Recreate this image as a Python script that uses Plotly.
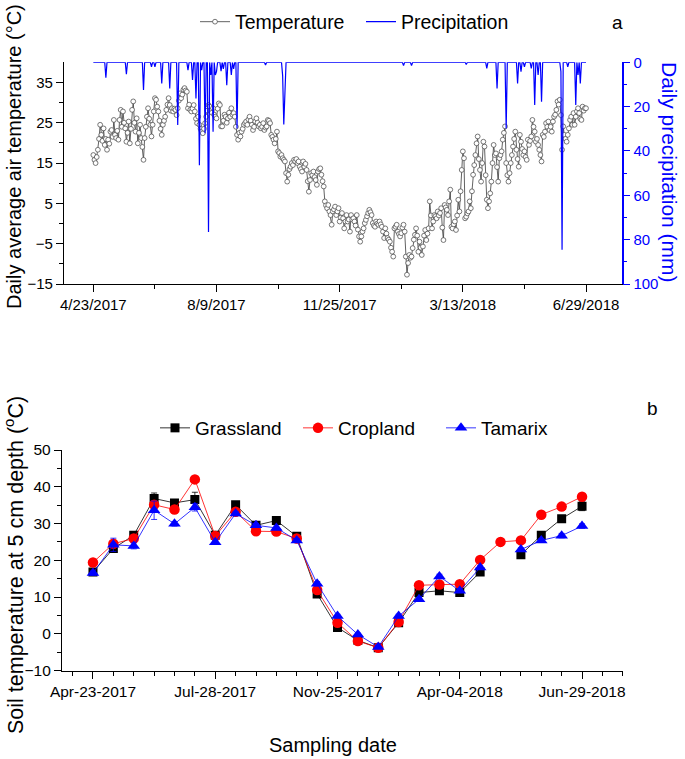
import datetime as dt
import plotly.graph_objects as go

# ---------------- Panel a data ----------------
temp_start = "2017-04-23"
temperature = [
    17.0, 15.8, 15.0, 16.5, 18.3, 21.0, 24.5, 22.0, 20.5, 23.6,
    19.5, 21.0, 18.3, 20.8, 19.8, 22.8, 23.2, 21.5, 25.7, 22.0,
    21.2, 23.0, 20.8, 25.7, 28.2, 24.0, 27.8, 25.0, 23.6, 20.3,
    22.5, 25.3, 19.9, 23.5, 28.2, 30.3, 25.0, 22.8, 26.1, 19.9,
    22.5, 24.5, 21.2, 19.0, 15.8, 21.2, 24.0, 26.5, 28.6, 26.0,
    24.5, 21.6, 24.5, 27.8, 31.1, 30.7, 29.0, 27.8, 25.5, 23.5,
    22.0, 24.5, 25.5, 26.5, 28.2, 29.5, 31.1, 29.4, 28.0, 28.6,
    27.8, 28.5, 28.2, 26.9, 28.6, 30.5, 32.3, 31.1, 32.0, 33.2,
    33.6, 33.0, 32.7, 28.6, 29.5, 28.2, 27.8, 28.5, 29.4, 27.8,
    26.0, 24.9, 26.5, 24.5, 23.5, 22.8, 22.4, 23.5, 24.9, 26.5,
    28.0, 29.4, 29.0, 28.0, 27.5, 28.6, 27.0, 26.5, 26.1, 28.5,
    29.8, 29.4, 24.1, 24.1, 25.5, 27.0, 26.5, 25.0, 26.1, 27.5,
    26.5, 28.6, 27.0, 27.4, 26.5, 24.0, 22.0, 20.8, 22.5, 21.6,
    22.8, 23.5, 24.5, 24.9, 25.3, 24.5, 25.8, 26.5, 25.5, 24.5,
    23.2, 24.0, 25.3, 26.1, 25.0, 24.1, 24.5, 23.6, 24.0, 24.9,
    23.2, 23.8, 24.1, 25.7, 25.5, 24.9, 22.0, 21.5, 20.8, 19.9,
    21.0, 22.8, 17.9, 17.5, 16.6, 17.0, 16.2, 15.8, 15.4, 12.5,
    10.4, 12.1, 13.5, 14.1, 15.0, 14.5, 15.8, 15.4, 16.0, 15.0,
    15.4, 14.1, 13.5, 12.9, 15.4, 14.1, 14.8, 13.3, 10.5, 7.9,
    10.8, 12.5, 12.0, 12.9, 11.5, 10.8, 9.6, 12.9, 13.5, 13.7,
    12.1, 10.5, 9.2, 5.5, 4.5, 3.8, 4.6, 3.0, 2.1, -0.3,
    3.0, 3.5, 4.2, 2.1, 3.0, 3.8, 0.5, 1.5, 2.6, 1.3,
    -1.2, 0.5, 2.1, 0.5, 1.0, -2.0, 2.1, 1.0, 1.3, 0.5,
    -0.5, 2.1, -1.5, -3.2, -4.5, -3.2, -2.0, -1.2, 0.1, 0.9,
    1.8, 2.6, 3.4, 2.8, 2.1, 0.1, -0.5, -0.8, 0.5, 0.0,
    -0.3, 0.5, -0.2, -0.8, -2.0, -3.6, -1.2, -2.5, -3.6, -4.0,
    -4.5, -6.0, -7.0, -8.2, -1.2, -0.8, -0.3, -2.0, -2.6, -3.2,
    -2.4, -1.0, -0.3, -2.0, -8.2, -12.7, -9.8, -7.8, -8.5, -8.2,
    -6.1, -4.0, -2.8, -1.2, -3.0, -7.0, -4.5, -6.0, -7.8, -5.7,
    -3.0, -1.6, -4.1, -2.5, -1.2, 5.5, 2.0, -1.2, 0.5, 2.1,
    1.8, 1.3, 3.0, 2.0, 2.6, 3.8, -1.0, -4.1, 4.6, 4.0,
    3.4, 2.1, 5.5, 8.4, -0.8, -1.2, -0.2, 0.5, -1.6, 2.0,
    5.9, 3.0, 8.0, 13.3, 17.9, 16.2, 1.3, 1.7, 2.5, 3.0,
    5.5, 3.8, 8.0, 12.1, 14.5, 17.0, 19.9, 21.6, 16.0, 13.3,
    10.4, 15.0, 20.3, 19.1, 12.0, 5.9, 3.8, 5.5, 7.5, 10.4,
    15.0, 19.5, 17.0, 17.4, 14.0, 10.4, 16.2, 17.0, 17.9, 20.8,
    22.5, 24.1, 15.0, 12.0, 10.4, 12.5, 15.0, 17.0, 19.1, 21.0,
    22.8, 18.3, 16.0, 14.1, 22.0, 20.3, 18.5, 17.0, 17.9, 16.5,
    15.8, 20.8, 19.5, 20.5, 21.6, 25.7, 24.0, 22.8, 20.3, 21.0,
    19.5, 18.3, 17.0, 15.4, 22.0, 21.5, 22.8, 24.9, 24.0, 25.3,
    23.2, 24.0, 22.8, 25.3, 26.5, 27.0, 28.2, 30.3, 29.5, 30.7,
    26.9, 18.3, 24.1, 22.0, 21.0, 20.3, 22.0, 23.6, 25.7, 26.5,
    24.5, 27.4, 24.5, 26.5, 27.8, 28.6, 27.4, 26.0, 25.7, 29.0,
    28.0, 28.6, 28.6,
]

rain_dates = [
    "2017-05-04", "2017-05-22", "2017-06-06", "2017-06-13", "2017-06-16",
    "2017-06-22", "2017-06-29", "2017-07-06", "2017-07-15", "2017-07-19",
    "2017-07-22", "2017-07-25", "2017-07-27", "2017-07-30", "2017-08-02",
    "2017-08-04", "2017-08-06", "2017-08-08", "2017-08-09", "2017-08-13",
    "2017-08-15", "2017-08-18", "2017-08-22", "2017-08-24", "2017-08-27",
    "2017-09-21", "2017-10-06", "2017-10-07", "2017-10-08",
    "2018-01-20", "2018-01-27", "2018-03-16",
    "2018-04-03", "2018-04-12", "2018-04-20", "2018-04-30", "2018-05-03",
    "2018-05-06", "2018-05-12", "2018-05-15", "2018-05-18", "2018-05-21",
    "2018-06-07", "2018-06-08", "2018-06-13", "2018-06-20", "2018-06-22",
    "2018-06-24",
]
rain_mm = [
    7.0, 5.4, 12.5, 2.0, 2.0,
    9.5, 11.8, 28.3, 3.5, 8.0,
    16.3, 46.4, 3.5, 32.0, 76.5,
    5.7, 31.3, 5.7, 4.2, 4.0,
    3.0, 10.3, 5.7, 3.0, 29.8,
    1.2, 6.0, 28.0, 14.0,
    1.5, 1.5, 1.0,
    2.7, 11.8, 29.8, 9.5, 4.2,
    2.0, 2.7, 19.3, 5.7, 17.8,
    4.2, 84.5, 2.0, 19.3, 5.7,
    9.5,
]

x_ticks_a = ["2017-04-23", "2017-08-09", "2017-11-25", "2018-03-13", "2018-06-29"]
x_ticklabels_a = ["4/23/2017", "8/9/2017", "11/25/2017", "3/13/2018", "6/29/2018"]
x_minor_a = ["2017-06-16", "2017-10-02", "2018-01-18", "2018-05-06"]

# ---------------- Panel b data ----------------
sample_idx = list(range(25))
x_ticklabels_b = ["Apr-23-2017", "Jul-28-2017", "Nov-25-2017", "Apr-04-2018", "Jun-29-2018"]
x_ticks_b = [0, 6, 12, 18, 24]

grassland = [16.8, 23.2, 26.8, 36.8, 35.6, 36.5, 26.8, 35.1, 29.5, 30.8, 26.5, 10.8, 1.7,
             -1.8, -3.8, 3.0, 11.2, 11.7, 11.2, 16.8, None, 21.5, 26.8, 31.3, 34.7]
grassland_err = [0.8, 1.0, 0.8, 1.5, 0.8, 2.0, 0.6, 0.8, 0.6, 0.6, 0.6, 0.6, 0.5,
                 0.4, 0.3, 0.5, 0.6, 0.6, 0.6, 0.6, None, 0.6, 0.8, 0.8, 1.2]
cropland = [19.4, 24.5, 25.9, 35.1, 33.8, 42.0, 26.6, 33.2, 27.9, 27.8, 25.9, 11.9, 3.0,
            -2.0, -3.8, 3.2, 13.2, 13.4, 13.5, 20.1, 25.0, 25.4, 32.4, 34.6, 37.3]
cropland_err = [0.5, 0.8, 0.6, 1.0, 0.8, 0.6, 0.5, 0.6, 0.5, 0.5, 0.5, 0.6, 0.5,
                0.4, 0.3, 0.5, 0.5, 0.8, 0.5, 0.5, 0.5, 0.5, 0.6, 0.6, 0.6]
tamarix = [16.5, 24.2, 23.9, 33.6, 29.9, 34.4, 24.9, 32.7, 29.5, 28.8, 25.4, 13.6, 4.8,
           -0.2, -3.6, 4.8, 9.4, 15.6, 11.7, 18.0, None, 22.9, 25.4, 26.7, 29.3]
tamarix_err = [0.6, 1.8, 0.8, 2.5, 0.6, 1.0, 0.5, 0.6, 0.5, 0.5, 0.5, 0.6, 0.5,
               0.4, 0.3, 0.5, 0.5, 0.6, 0.5, 0.5, None, 0.5, 0.5, 0.6, 0.6]

# ---------------- build ----------------
W, H = 685, 759
FONT = "Liberation Sans, Arial, sans-serif"
BLUE = "#0000FF"

d0 = dt.date.fromisoformat(temp_start)
temp_dates = [(d0 + dt.timedelta(days=i)).isoformat() for i in range(len(temperature))]
rain_lookup = dict(zip(rain_dates, rain_mm))
precip_daily = [rain_lookup.get(d, 0.0) for d in temp_dates]


def px_x(p):
    return p / W


def px_y(p):
    return (H - p) / H


fig = go.Figure()

fig.add_trace(go.Scatter(
    x=temp_dates, y=temperature, name="Temperature", mode="lines+markers",
    line=dict(color="#3a3a3a", width=0.8),
    marker=dict(symbol="circle", size=4.8, color="white", line=dict(color="#555555", width=0.8)),
    xaxis="x", yaxis="y", legend="legend",
))
fig.add_trace(go.Scatter(
    x=temp_dates, y=precip_daily, name="Precipitation", mode="lines",
    line=dict(color=BLUE, width=1.2),
    xaxis="x", yaxis="y2", legend="legend",
))

common_b = dict(xaxis="x2", yaxis="y3", legend="legend2", mode="lines+markers", connectgaps=False)
fig.add_trace(go.Scatter(
    x=sample_idx, y=grassland, name="Grassland",
    line=dict(color="black", width=0.8),
    marker=dict(symbol="square", size=9, color="black"),
    error_y=dict(type="data", array=grassland_err, color="black", thickness=0.8, width=3),
    **common_b))
fig.add_trace(go.Scatter(
    x=sample_idx, y=cropland, name="Cropland",
    line=dict(color="#FF0000", width=0.8),
    marker=dict(symbol="circle", size=10.5, color="#FF0000"),
    error_y=dict(type="data", array=cropland_err, color="#FF0000", thickness=0.8, width=3),
    **common_b))
fig.add_trace(go.Scatter(
    x=sample_idx, y=tamarix, name="Tamarix",
    line=dict(color=BLUE, width=0.8),
    marker=dict(symbol="triangle-up", size=11, color=BLUE),
    error_y=dict(type="data", array=tamarix_err, color=BLUE, thickness=0.8, width=3),
    **common_b))

xa_dom = [px_x(64), px_x(621.7)]
ya_dom = [px_y(284), px_y(62.3)]
xb_dom = [px_x(62), px_x(623)]
yb_dom = [px_y(670.5), px_y(450)]
x_range_a = ["2017-03-28 07:00", "2018-07-30 07:00"]

tickfont = dict(family=FONT, size=15, color="black")
tickfont_b = dict(family=FONT, size=15.5, color="black")
base_axis = dict(automargin=False, showgrid=False, zeroline=False, showline=True)

fig.update_layout(
    width=W, height=H,
    margin=dict(l=0, r=0, t=0, b=0, autoexpand=False),
    paper_bgcolor="white", plot_bgcolor="white",
    font=dict(family=FONT, color="black"),
    showlegend=True,
    xaxis=dict(
        domain=xa_dom, anchor="y", type="date", range=x_range_a,
        tickmode="array", tickvals=x_ticks_a, ticktext=x_ticklabels_a,
        ticks="outside", ticklen=7, tickwidth=1.2, tickcolor="black",
        minor=dict(tickmode="array", tickvals=x_minor_a, ticks="outside", ticklen=4, tickwidth=1, tickcolor="black"),
        linecolor="black", linewidth=1.3, tickfont=tickfont, **base_axis,
    ),
    xaxis3=dict(
        domain=xa_dom, anchor="y", overlaying="x", side="top", type="date", range=x_range_a,
        tickmode="array", tickvals=x_ticks_a, showticklabels=False,
        ticks="inside", ticklen=7, tickwidth=1.2, tickcolor="black",
        minor=dict(tickmode="array", tickvals=x_minor_a, ticks="inside", ticklen=4, tickwidth=1, tickcolor="black"),
        linecolor="black", linewidth=1.3, **base_axis,
    ),
    yaxis=dict(
        domain=ya_dom, anchor="x", range=[-15, 40],
        tickmode="array", tickvals=[-15, -5, 5, 15, 25, 35],
        ticks="outside", ticklen=7, tickwidth=1.2, tickcolor="black",
        minor=dict(tickmode="array", tickvals=[-10, 0, 10, 20, 30], ticks="outside", ticklen=4, tickwidth=1, tickcolor="black"),
        linecolor="black", linewidth=1.3, tickfont=tickfont, **base_axis,
    ),
    yaxis2=dict(
        domain=ya_dom, anchor="x", overlaying="y", side="right", range=[100, 0],
        tickmode="array", tickvals=[0, 20, 40, 60, 80, 100],
        ticks="outside", ticklen=7, tickwidth=1.2, tickcolor=BLUE,
        minor=dict(tickmode="array", tickvals=[10, 30, 50, 70, 90], ticks="outside", ticklen=4, tickwidth=1, tickcolor=BLUE),
        linecolor=BLUE, linewidth=1.5,
        tickfont=dict(family=FONT, size=15, color=BLUE), **base_axis,
    ),
    xaxis2=dict(
        domain=xb_dom, anchor="y3", range=[-1.52, 26.01],
        tickmode="array", tickvals=x_ticks_b, ticktext=x_ticklabels_b,
        ticks="outside", ticklen=7, tickwidth=1.2, tickcolor="black",
        minor=dict(dtick=1, tick0=0, ticks="outside", ticklen=4, tickwidth=1, tickcolor="black"),
        linecolor="black", linewidth=1.3, tickfont=tickfont_b, **base_axis,
    ),
    yaxis3=dict(
        domain=yb_dom, anchor="x2", range=[-10, 50],
        tickmode="array", tickvals=[-10, 0, 10, 20, 30, 40, 50],
        ticks="outside", ticklen=7, tickwidth=1.2, tickcolor="black",
        minor=dict(dtick=5, tick0=0, ticks="outside", ticklen=4, tickwidth=1, tickcolor="black"),
        linecolor="black", linewidth=1.3, tickfont=tickfont_b, **base_axis,
    ),
    legend=dict(
        orientation="h", x=px_x(195), y=px_y(22), xanchor="left", yanchor="middle",
        font=dict(family=FONT, size=19.5, color="black"), bgcolor="rgba(0,0,0,0)",
        entrywidth=121, entrywidthmode="pixels", tracegroupgap=0,
    ),
    legend2=dict(
        orientation="h", x=px_x(155), y=px_y(428), xanchor="left", yanchor="middle",
        font=dict(family=FONT, size=19, color="black"), bgcolor="rgba(0,0,0,0)",
        entrywidth=98, entrywidthmode="pixels", tracegroupgap=0,
    ),
)

annos = [
    dict(text="Daily average air temperature (\u00b0C)", x=px_x(14), y=px_y(157), textangle=-90,
         font=dict(size=20)),
    dict(text="Daily precipitation (mm)", x=px_x(670), y=px_y(172), textangle=90,
         font=dict(size=21, color=BLUE)),
    dict(text="Soil temperature at 5 cm depth (<sup>o</sup>C)", x=px_x(14), y=px_y(565), textangle=-90,
         font=dict(size=21.5)),
    dict(text="Sampling date", x=px_x(333), y=px_y(745), font=dict(size=20)),
    dict(text="a", x=px_x(617), y=px_y(22), font=dict(size=19)),
    dict(text="b", x=px_x(652), y=px_y(408), font=dict(size=19)),
]
for a in annos:
    a.update(xref="paper", yref="paper", showarrow=False, xanchor="center", yanchor="middle")
    a["font"].setdefault("family", FONT)
    a["font"].setdefault("color", "black")
fig.update_layout(annotations=annos)

fig.write_html(
    "out.html",
    config={"displayModeBar": False},
    post_script="document.body.style.margin='0';document.body.style.padding='0';",
)
